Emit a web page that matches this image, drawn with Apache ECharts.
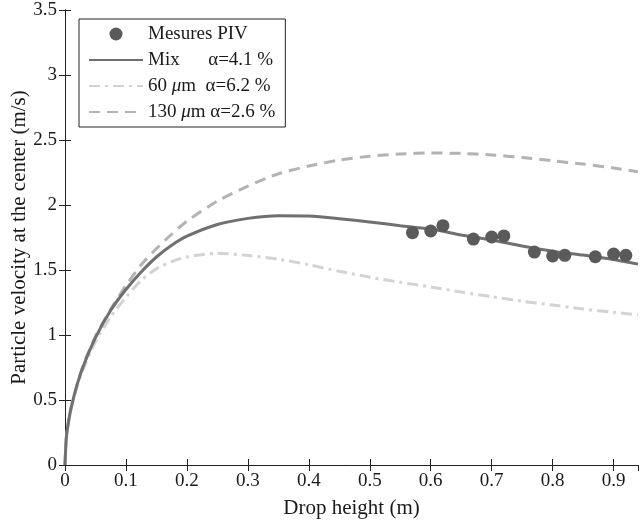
<!DOCTYPE html>
<html>
<head>
<meta charset="utf-8">
<script src="https://cdn.jsdelivr.net/npm/echarts@6/dist/echarts.min.js"></script>
<style>html,body{margin:0;padding:0;background:#fff;}#c{width:640px;height:521px;}</style>
</head>
<body>
<div id="c"></div>
<script>
// ---- data ----
const measX = [0.57, 0.60, 0.62, 0.67, 0.70, 0.72, 0.77, 0.80, 0.82, 0.87, 0.90, 0.92];
const measY = [1.787, 1.80, 1.841, 1.738, 1.754, 1.762, 1.638, 1.608, 1.613, 1.602, 1.623, 1.613];
const curveX = [0, 0.002, 0.005, 0.01, 0.02, 0.03, 0.05, 0.075, 0.1, 0.125, 0.15, 0.175, 0.2, 0.25, 0.3, 0.35, 0.4, 0.45, 0.5, 0.55, 0.6, 0.65, 0.7, 0.75, 0.8, 0.85, 0.9, 0.94];
const mixY = [0, 0.2, 0.31, 0.44, 0.62, 0.76, 0.98, 1.19, 1.35, 1.485, 1.6, 1.69, 1.76, 1.85, 1.897, 1.918, 1.915, 1.895, 1.87, 1.84, 1.815, 1.77, 1.73, 1.685, 1.645, 1.615, 1.58, 1.545];
const y60 = [0, 0.2, 0.31, 0.44, 0.61, 0.74, 0.95, 1.14, 1.29, 1.42, 1.51, 1.565, 1.6, 1.628, 1.612, 1.583, 1.54, 1.49, 1.445, 1.405, 1.37, 1.33, 1.295, 1.26, 1.23, 1.2, 1.175, 1.155];
const y130 = [0, 0.2, 0.31, 0.44, 0.62, 0.77, 0.99, 1.2, 1.38, 1.54, 1.665, 1.775, 1.875, 2.03, 2.145, 2.24, 2.3, 2.345, 2.375, 2.392, 2.4, 2.397, 2.385, 2.365, 2.34, 2.315, 2.285, 2.255];
const seriesNames = ['Mesures PIV', 'Mix', '60 μm', '130 μm'];
const legendLabels = {
  'Mesures PIV': '{n|Mesures PIV}',
  'Mix': '{n|Mix      α=4.1 %}',
  '60 μm': '{n|60 }{i|μ}{n|m  α=6.2 %}',
  '130 μm': '{n|130 }{i|μ}{n|m α=2.6 %}'
};
const xTitle = 'Drop height (m)';
const yTitle = 'Particle velocity at the center (m/s)';

const zip = (xs, ys) => xs.map((x, i) => [x, ys[i]]);
const FONT = '"Liberation Serif", "DejaVu Serif", serif';
const AX = '#222';

const chart = echarts.init(document.getElementById('c'), null, {renderer: 'canvas'});
const xBase = {min: 0, max: 0.94, interval: 0.1, splitLine: {show: false},
  axisLine: {lineStyle: {color: AX, width: 1}},
  axisTick: {inside: true, length: 6, lineStyle: {color: AX}}};
const yBase = {min: 0, max: 3.5, interval: 0.5, splitLine: {show: false},
  axisLine: {show: true, lineStyle: {color: AX, width: 1}},
  axisTick: {show: true, inside: true, length: 6, lineStyle: {color: AX}}};
const hideSym = {color: 'rgba(0,0,0,0)', borderWidth: 0, opacity: 0};

chart.setOption({
  animation: false,
  backgroundColor: '#fff',
  textStyle: {fontFamily: FONT},
  grid: {left: 65, top: 10, right: 2, bottom: 56, containLabel: false, outerBoundsMode: 'none'},
  xAxis: [
    Object.assign({}, xBase, {type: 'value', position: 'bottom',
      name: xTitle, nameLocation: 'middle', nameGap: 33, nameMoveOverlap: false,
      nameTextStyle: {fontFamily: FONT, fontSize: 21, color: '#1a1a1a'},
      axisLabel: {margin: 7, fontFamily: FONT, fontSize: 19, color: '#1a1a1a', showMaxLabel: false}}),
    Object.assign({}, xBase, {type: 'value', position: 'top', axisLabel: {show: false}})
  ],
  yAxis: [
    Object.assign({}, yBase, {type: 'value', position: 'left',
      name: yTitle, nameLocation: 'middle', nameGap: 35, nameRotate: 90, nameMoveOverlap: false,
      nameTextStyle: {fontFamily: FONT, fontSize: 21, color: '#1a1a1a'},
      axisLabel: {margin: 8, fontFamily: FONT, fontSize: 19, color: '#1a1a1a'}}),
    Object.assign({}, yBase, {type: 'value', position: 'right', axisLabel: {show: false}})
  ],
  legend: {
    orient: 'vertical', left: 79, top: 19,
    padding: [4, 10, 4, 9], itemGap: 4,
    itemWidth: 54, itemHeight: 13,
    borderColor: '#222', borderWidth: 1, backgroundColor: '#fff',
    data: [
      {name: seriesNames[0]},
      {name: seriesNames[1], itemStyle: hideSym},
      {name: seriesNames[2], itemStyle: hideSym},
      {name: seriesNames[3], itemStyle: hideSym}
    ],
    formatter: name => legendLabels[name],
    textStyle: {fontFamily: FONT, fontSize: 19, color: '#1a1a1a', lineHeight: 22,
      rich: {n: {fontFamily: FONT, fontSize: 19, color: '#1a1a1a', lineHeight: 22},
             i: {fontFamily: FONT, fontSize: 19, fontStyle: 'italic', color: '#1a1a1a', lineHeight: 22}}}
  },
  series: [
    {name: seriesNames[3], type: 'line', data: zip(curveX, y130), showSymbol: false, symbol: 'none',
     smooth: 0.25, z: 2,
     itemStyle: {color: '#b3b3b3'},
     lineStyle: {color: '#b3b3b3', width: 3, type: [11, 7]}},
    {name: seriesNames[2], type: 'line', data: zip(curveX, y60), showSymbol: false, symbol: 'none',
     smooth: 0.25, z: 2,
     itemStyle: {color: '#d3d3d3'},
     lineStyle: {color: '#d3d3d3', width: 3, type: [11, 5, 3, 5]}},
    {name: seriesNames[1], type: 'line', data: zip(curveX, mixY), showSymbol: false, symbol: 'none',
     smooth: 0.25, z: 3,
     itemStyle: {color: '#707070'},
     lineStyle: {color: '#707070', width: 3}},
    {name: seriesNames[0], type: 'scatter', data: zip(measX, measY), symbol: 'circle', symbolSize: 13, z: 4,
     itemStyle: {color: '#5a5a5a', opacity: 1}}
  ]
});
</script>
</body>
</html>
